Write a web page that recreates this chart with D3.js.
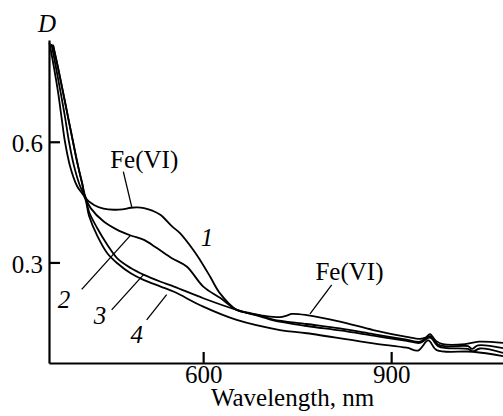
<!DOCTYPE html>
<html>
<head>
<meta charset="utf-8">
<script src="https://cdn.jsdelivr.net/npm/d3@7"></script>
<style>
  body { margin: 0; background: #fff; }
  svg text { font-family: 'Liberation Serif', 'DejaVu Serif', 'Noto Serif', Times, serif !important; }
  .axis path, .axis line { stroke: #000; stroke-width: 2.2; }
</style>
</head>
<body>
<svg></svg>
<script>
// Spectra: wavelength (nm) and optical density D
const wl1 = [360.4, 368.4, 376.3, 384.3, 392.3, 400.3, 406.7, 412.6, 425.8, 441, 457.7, 471, 484.4, 495, 505.6, 520, 532.2, 550.8, 563, 584.3, 595, 611, 626.9, 653.5, 674.7, 698.7, 722.6, 733.3, 741.8, 765.3, 818.3, 871.5, 924.8, 946, 955, 962, 971.5, 982.7, 1017.8, 1040, 1078.5]
const d1  = [0.841, 0.784, 0.724, 0.662, 0.6, 0.54, 0.498, 0.46, 0.443, 0.434, 0.431, 0.432, 0.436, 0.437, 0.435, 0.428, 0.418, 0.389, 0.373, 0.331, 0.306, 0.265, 0.223, 0.182, 0.174, 0.167, 0.164, 0.168, 0.172, 0.169, 0.153, 0.132, 0.115, 0.110, 0.113, 0.122, 0.105, 0.097, 0.097, 0.103, 0.100]

const wl2 = [360.4, 368.4, 376.3, 384.3, 392.3, 400.3, 406.7, 412.6, 420.5, 441.8, 463, 484.4, 505.6, 526.8, 550.8, 573.7, 600.2, 626.9, 653.5, 690.7, 711.9, 765.3, 818.3, 871.5, 924.8, 946, 962, 974.7, 988.7, 1022.6, 1029, 1038.6, 1078.5]
const d2  = [0.841, 0.784, 0.724, 0.662, 0.6, 0.54, 0.498, 0.46, 0.435, 0.401, 0.381, 0.367, 0.356, 0.335, 0.31, 0.29, 0.24, 0.212, 0.182, 0.168, 0.158, 0.147, 0.136, 0.122, 0.108, 0.103, 0.117, 0.096, 0.091, 0.092, 0.085, 0.094, 0.087]

const wl3 = [358, 365.2, 372.4, 379.5, 385.9, 393.9, 403.5, 412.6, 417.8, 431.1, 447, 463, 484.4, 505.6, 532.2, 553.5, 600.2, 653.5, 690.7, 711.9, 765.3, 818.3, 871.5, 924.8, 946, 962, 974.7, 988.7, 1022.6, 1030.6, 1041.7, 1078.5]
const d3v = [0.843, 0.784, 0.724, 0.662, 0.6, 0.54, 0.49, 0.46, 0.426, 0.385, 0.344, 0.31, 0.286, 0.269, 0.252, 0.24, 0.211, 0.182, 0.166, 0.156, 0.142, 0.131, 0.118, 0.105, 0.1, 0.113, 0.092, 0.087, 0.085, 0.079, 0.086, 0.075]

const wl4 = [354.8, 362, 368.4, 373.9, 379.5, 387.5, 398.7, 411.4, 417.8, 431.1, 447, 463, 484.4, 505.6, 532.2, 553.5, 600.2, 653.5, 722.6, 765.3, 871.5, 924.8, 942.8, 959.3, 972.7, 1031, 1078.5]
const d4  = [0.846, 0.784, 0.724, 0.662, 0.6, 0.54, 0.49, 0.46, 0.416, 0.366, 0.323, 0.298, 0.273, 0.256, 0.24, 0.227, 0.19, 0.157, 0.132, 0.124, 0.099, 0.088, 0.081, 0.106, 0.082, 0.078, 0.067]

const xTicks = [600, 900]
const yTicks = [0.3, 0.6]

// curve labels and leader lines, in data units
const labels = [
    {text: 'Fe(VI)', x: 505.9, y: 0.535, italic: false, from: [472.6, 0.526], to: [486, 0.438]},
    {text: '1', x: 606, y: 0.341, italic: true},
    {text: '2', x: 378, y: 0.187, italic: true, from: [406.2, 0.233], to: [483.3, 0.366]},
    {text: '3', x: 435.4, y: 0.147, italic: true, from: [454, 0.182], to: [504.5, 0.269]},
    {text: '4', x: 494, y: 0.100, italic: true, from: [509.9, 0.157], to: [541.8, 0.220]},
    {text: 'Fe(VI)', x: 833.5, y: 0.256, italic: false, from: [805.1, 0.244], to: [770.5, 0.172]}
]

const width = 503
const height = 416
const svg = d3.select('svg').attr('width', width).attr('height', height)

const xScale = d3.scaleLinear().domain([354, 1080]).range([49, 503.96])
const yScale = d3.scaleLinear().domain([0.05, 0.853]).range([363, 40])

const series = [[wl1, d1], [wl2, d2], [wl3, d3v], [wl4, d4]]
const line = d3.line()
    .x(p => xScale(p[0]))
    .y(p => yScale(p[1]))
    .curve(d3.curveCatmullRom.alpha(0.5))

svg.selectAll('path.spectrum')
    .data(series.map(([w, d]) => w.map((v, i) => [v, d[i]])))
    .enter()
    .append('path')
    .attr('class', 'spectrum')
    .attr('d', line)
    .attr('fill', 'none')
    .attr('stroke', '#000')
    .attr('stroke-width', 1.8)

// axes with inward ticks
const xAxis = d3.axisBottom(xScale).tickValues(xTicks).tickSizeInner(-11).tickSizeOuter(0).tickPadding(2)
const yAxis = d3.axisLeft(yScale).tickValues(yTicks).tickSizeInner(-11).tickSizeOuter(0).tickPadding(6)
    .tickFormat(d3.format('.1f'))

svg.append('g')
    .attr('class', 'axis')
    .attr('transform', 'translate(0,' + yScale(0.05) + ')')
    .call(xAxis)
    .call(g => g.selectAll('text').attr('dy', '0.72em'))

svg.append('g')
    .attr('class', 'axis')
    .attr('transform', 'translate(' + xScale(354) + ',0)')
    .call(yAxis)
    .call(g => g.selectAll('text').attr('dy', '0.4em'))

svg.selectAll('.axis').attr('font-family', null).attr('font-size', 25)
svg.selectAll('.axis text').attr('fill', '#000')

// axis titles
svg.append('text')
    .attr('x', 292.5)
    .attr('y', 406)
    .attr('text-anchor', 'middle')
    .style('font-size', '25px')
    .text('Wavelength, nm')

svg.append('text')
    .attr('x', 38)
    .attr('y', 31.5)
    .style('font-size', '25px')
    .style('font-style', 'italic')
    .text('D')

// curve labels
labels.filter(l => l.from).forEach(l => {
    svg.append('line')
        .attr('x1', xScale(l.from[0])).attr('y1', yScale(l.from[1]))
        .attr('x2', xScale(l.to[0])).attr('y2', yScale(l.to[1]))
        .attr('stroke', '#000')
        .attr('stroke-width', 1.3)
})

svg.selectAll('text.lab')
    .data(labels)
    .enter()
    .append('text')
    .attr('class', 'lab')
    .attr('x', l => xScale(l.x))
    .attr('y', l => yScale(l.y))
    .attr('text-anchor', 'middle')
    .style('font-size', '25px')
    .style('font-style', l => l.italic ? 'italic' : 'normal')
    .text(l => l.text)
</script>
</body>
</html>
